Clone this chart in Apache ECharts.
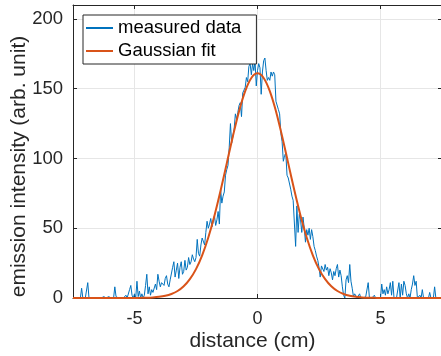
<!DOCTYPE html>
<html><head><meta charset="utf-8">
<script src="https://cdn.jsdelivr.net/npm/echarts@6/dist/echarts.min.js"></script>
<style>html,body{margin:0;padding:0;background:#fff}#c{width:441px;height:356px}</style>
</head><body><div id="c"></div>
<script>
// measured data: positions (cm) and intensities
const measuredX = [
-7.5,-7.45,-7.4,-7.35,-7.3,-7.25,-7.2,-7.15,-7.1,-7.05,-7,-6.95,-6.9,-6.85,-6.8,-6.75,-6.7,-6.65,-6.6,-6.55,
-6.5,-6.45,-6.4,-6.35,-6.3,-6.25,-6.2,-6.15,-6.1,-6.05,-6,-5.95,-5.9,-5.85,-5.8,-5.75,-5.7,-5.65,-5.6,-5.55,
-5.5,-5.45,-5.4,-5.35,-5.3,-5.25,-5.2,-5.15,-5.1,-5.05,-5,-4.95,-4.9,-4.85,-4.8,-4.75,-4.7,-4.65,-4.6,-4.55,
-4.5,-4.45,-4.4,-4.35,-4.3,-4.25,-4.2,-4.15,-4.1,-4.05,-4,-3.95,-3.9,-3.85,-3.8,-3.75,-3.7,-3.65,-3.6,-3.55,
-3.5,-3.45,-3.4,-3.35,-3.3,-3.25,-3.2,-3.15,-3.1,-3.05,-3,-2.95,-2.9,-2.85,-2.8,-2.75,-2.7,-2.65,-2.6,-2.55,
-2.5,-2.45,-2.4,-2.35,-2.3,-2.25,-2.2,-2.15,-2.1,-2.05,-2,-1.95,-1.9,-1.85,-1.8,-1.75,-1.7,-1.65,-1.6,-1.55,
-1.5,-1.45,-1.4,-1.35,-1.3,-1.25,-1.2,-1.15,-1.1,-1.05,-1,-0.95,-0.9,-0.85,-0.8,-0.75,-0.7,-0.65,-0.6,-0.55,
-0.5,-0.45,-0.4,-0.35,-0.3,-0.25,-0.2,-0.15,-0.1,-0.05,0,0.05,0.1,0.15,0.2,0.25,0.3,0.35,0.4,0.45,
0.5,0.55,0.6,0.65,0.7,0.75,0.8,0.85,0.9,0.95,1,1.05,1.1,1.15,1.2,1.25,1.3,1.35,1.4,1.45,
1.5,1.55,1.6,1.65,1.7,1.75,1.8,1.85,1.9,1.95,2,2.05,2.1,2.15,2.2,2.25,2.3,2.35,2.4,2.45,
2.5,2.55,2.6,2.65,2.7,2.75,2.8,2.85,2.9,2.95,3,3.05,3.1,3.15,3.2,3.25,3.3,3.35,3.4,3.45,
3.5,3.55,3.6,3.65,3.7,3.75,3.8,3.85,3.9,3.95,4,4.05,4.1,4.15,4.2,4.25,4.3,4.35,4.4,4.45,
4.5,4.55,4.6,4.65,4.7,4.75,4.8,4.85,4.9,4.95,5,5.05,5.1,5.15,5.2,5.25,5.3,5.35,5.4,5.45,
5.5,5.55,5.6,5.65,5.7,5.75,5.8,5.85,5.9,5.95,6,6.05,6.1,6.15,6.2,6.25,6.3,6.35,6.4,6.45,
6.5,6.55,6.6,6.65,6.7,6.75,6.8,6.85,6.9,6.95,7,7.05,7.1,7.15,7.2,7.25,7.3,7.35,7.4,7.45,
7.5];
const measuredY = [
0,0,0,0,0,0,0,7,0,0,0,0,11,0,0,0,0,0,0,0,
0,0,0,0,0,1,0,0,0,1,0,0,0,0,8,1,0,0,0,0,
0,0,0,2,0,0,6,9,2,0,3,0,12,1,5,0,3,0,2,9,
17,3,8,2,6,4,3,10,6,17,12,8,11,10,9,14,16,10,8,13,
12,22,26,15,20,25,14,22,26,17,19,27,20,22,29,24,26,31,28,26,
29,42,32,30,38,43,44,38,47,55,50,53,57,51,55,59,52,56,62,53,
78,68,73,76,88,92,95,108,125,111,116,121,132,128,133,138,140,130,147,149,
151,158,155,166,168,160,168,163,170,152,163,168,165,146,162,170,172,163,156,158,
156,162,159,162,160,141,140,135,132,118,112,98,102,104,88,86,85,78,73,70,
71,37,66,47,60,56,47,58,50,40,49,45,50,42,49,44,37,34,30,27,
22,15,23,22,19,24,20,22,16,21,18,13,19,16,21,24,15,20,16,8,
2,0,13,16,11,24,12,7,1,3,4,0,0,3,0,0,0,0,1,0,
11,0,0,0,0,2,0,0,0,0,0,10,3,6,2,8,3,6,11,2,
12,0,0,0,0,11,0,10,2,12,9,3,0,3,0,6,10,16,9,12,
0,0,2,0,6,0,0,0,0,0,4,0,0,0,8,0,0,0,0,0,
0];
// Gaussian fit curve
const fitX = [-7.5,-7.25,-7,-6.75,-6.5,-6.25,-6,-5.75,-5.5,-5.25,-5,-4.75,-4.5,-4.25,-4,-3.75,-3.5,-3.25,-3,-2.75,-2.5,-2.25,-2,-1.75,-1.5,-1.25,-1,-0.75,-0.5,-0.25,
0,0.25,0.5,0.75,1,1.25,1.5,1.75,2,2.25,2.5,2.75,3,3.25,3.5,3.75,4,4.25,4.5,4.75,5,5.25,5.5,5.75,6,6.25,6.5,6.75,7,7.25,7.5];
const fitY = [0,0,0,0,0,0,0,0,0,0,0.05,0.1,0.21,0.43,0.85,1.6,2.9,5,8.4,13.5,20.7,30.6,43.4,59,77,96.5,116,133.9,148.3,157.7,
161,157.7,148.3,133.9,116,96.5,77,59,43.4,30.6,20.7,13.5,8.4,5,2.9,1.6,0.85,0.43,0.21,0.1,0.05,0,0,0,0,0,0,0,0,0,0];
const seriesNames = ['measured data', 'Gaussian fit'];
const xName = 'distance (cm)';
const yName = 'emission intensity (arb. unit)';

const FONT = '"Liberation Sans", Arial, Helvetica, sans-serif';
const AX = '#262626';
const pair = (xs, ys) => xs.map((x, i) => [x, ys[i]]);

const chart = echarts.init(document.getElementById('c'), null, {renderer: 'canvas'});
const baseX = {type: 'value', min: -7.5, max: 7.5, splitNumber: 3};
const baseY = {type: 'value', min: 0, max: 210, interval: 50};
const line = {show: true, onZero: false, lineStyle: {color: AX, width: 1}};
const tick = {show: true, inside: true, length: 4, lineStyle: {color: AX}};
chart.setOption({
  animation: false,
  backgroundColor: '#fff',
  textStyle: {fontFamily: FONT},
  grid: {left: 73, right: -1, top: 5, bottom: 58, containLabel: false, outerBoundsMode: 'none'},
  legend: {
    orient: 'vertical', left: 83, top: 15,
    padding: [3, 15, 3, 3], itemGap: 3, itemWidth: 27, itemHeight: 2, icon: 'rect',
    backgroundColor: '#fff', borderColor: AX, borderWidth: 1, borderRadius: 0,
    textStyle: {fontSize: 18.5, color: '#000', fontFamily: FONT, lineHeight: 20},
    data: seriesNames
  },
  xAxis: [
    Object.assign({}, baseX, {
      position: 'bottom',
      name: xName, nameLocation: 'middle', nameGap: 33, nameMoveOverlap: false,
      nameTextStyle: {fontSize: 21, color: AX, fontFamily: FONT, padding: [0, 10, 0, 0]},
      axisLine: line, axisTick: tick,
      axisLabel: {fontSize: 18, color: AX, fontFamily: FONT, margin: 12, showMinLabel: false, showMaxLabel: false},
      splitLine: {show: true, lineStyle: {color: '#e6e6e6', width: 1}}
    }),
    Object.assign({}, baseX, {
      position: 'top',
      axisLine: line, axisTick: tick,
      axisLabel: {show: false}, splitLine: {show: false}
    })
  ],
  yAxis: [
    Object.assign({}, baseY, {
      position: 'left',
      name: yName, nameLocation: 'middle', nameGap: 43, nameMoveOverlap: false,
      nameTextStyle: {fontSize: 21, color: AX, fontFamily: FONT, padding: [0, 30, 0, 0]},
      axisLine: line, axisTick: tick,
      axisLabel: {fontSize: 18.5, color: AX, fontFamily: FONT, margin: 10, showMaxLabel: false},
      splitLine: {show: true, lineStyle: {color: '#e6e6e6', width: 1}}
    }),
    Object.assign({}, baseY, {
      position: 'right',
      axisLine: line, axisTick: tick,
      axisLabel: {show: false}, splitLine: {show: false}
    })
  ],
  series: [
    {
      name: seriesNames[0], type: 'line', xAxisIndex: 0, yAxisIndex: 0,
      data: pair(measuredX, measuredY), symbol: 'none', showSymbol: false,
      lineStyle: {color: '#0072BD', width: 1}, itemStyle: {color: '#0072BD'}, z: 2
    },
    {
      name: seriesNames[1], type: 'line', xAxisIndex: 0, yAxisIndex: 0,
      data: pair(fitX, fitY), symbol: 'none', showSymbol: false, smooth: 0.35,
      lineStyle: {color: '#D95319', width: 2}, itemStyle: {color: '#D95319'}, z: 3
    }
  ]
});
</script></body></html>
